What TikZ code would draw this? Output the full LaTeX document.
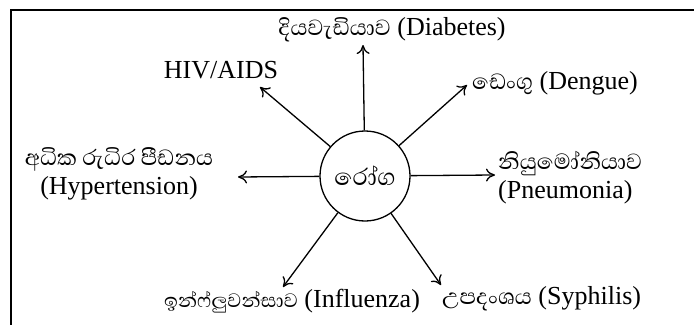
\documentclass[tikz,border=0pt]{standalone}
\usepackage{fontspec}
\setmainfont{Liberation Serif}
\newfontfamily\sinhfont[Script=Sinhala,Scale=1.08]{Abhaya Libre}
\usetikzlibrary{arrows.meta}
\begin{document}
\begin{tikzpicture}[x=1pt,y=1pt,
  lbl/.style={font=\fontsize{26}{26}\selectfont, inner sep=0pt},
  spoke/.style={line width=1.3pt, -{To[length=9pt,width=13pt,line width=1.3pt]}}]
\useasboundingbox (0,0) rectangle (694,325);
\draw[line width=1.3pt] (694,315) -- (11,315) -- (11,0);
\node[circle, draw, line width=1.3pt, minimum size=90pt, inner sep=0pt,
  font=\fontsize{28}{28}\selectfont] (c) at (365,149) {\sinhfont රෝග};
\node[lbl] (diab) at (392,295) {{\sinhfont දියවැඩියාව} (Diabetes)};
\node[lbl] (hiv) at (221,255) {HIV/AIDS};
\node[lbl, anchor=west] (deng) at (472,242) {{\sinhfont ඩෙංගු} (Dengue)};
\node[lbl, align=center] (hyp) at (119,151) {{\sinhfont අධික රුධිර පීඩනය}\\[3pt](Hypertension)};
\node[lbl, align=left, anchor=west] (pneu) at (498,147) {{\sinhfont නියුමෝනියාව}\\[3pt](Pneumonia)};
\node[lbl] (infl) at (292,24) {{\fontsize{23}{23}\selectfont\sinhfont ඉන්ෆ්ලුවන්සාව} (Influenza)};
\node[lbl, anchor=west] (syph) at (442,26) {{\sinhfont උපදංශය} (Syphilis)};
\coordinate (tu) at (363,280);
\coordinate (thiv) at (260,238);
\coordinate (tdeng) at (467,240);
\coordinate (tl) at (238,148);
\coordinate (tr) at (495,150);
\coordinate (tbl) at (283,38);
\coordinate (tbr) at (441,40);
\foreach \t in {tu,thiv,tdeng,tl,tr,tbl,tbr}
  \draw[spoke] (c) -- (\t);
\end{tikzpicture}
\end{document}
